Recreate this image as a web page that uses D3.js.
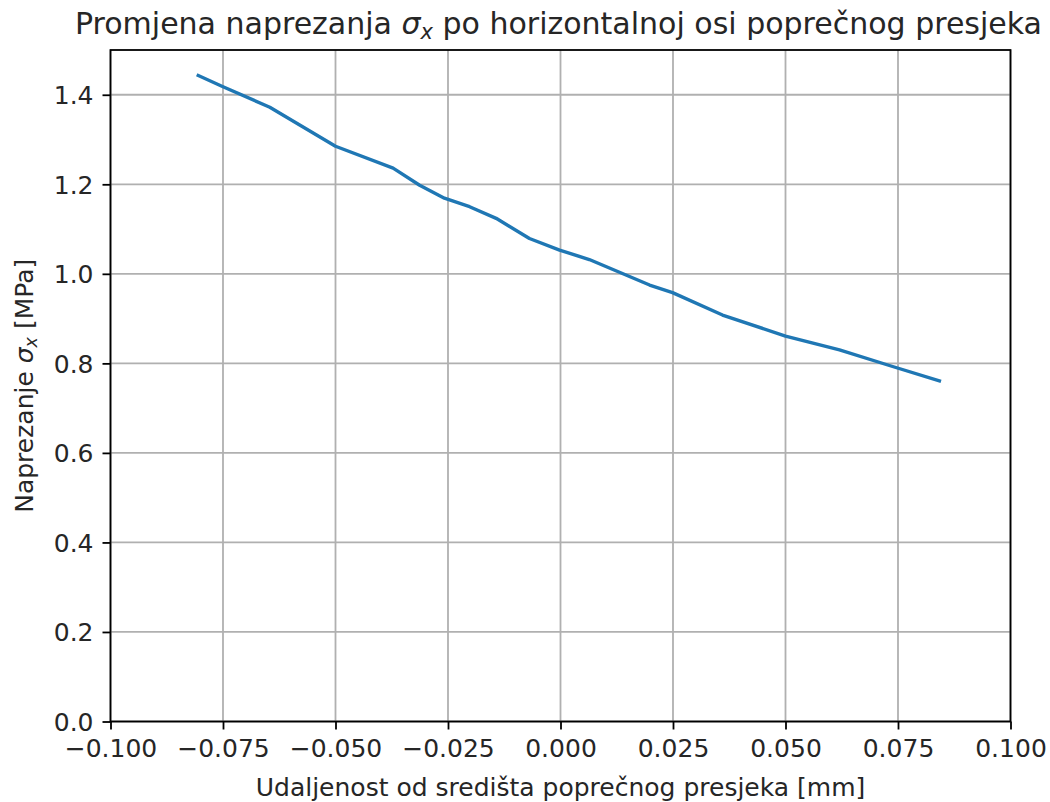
<!DOCTYPE html>
<html>
<head>
<meta charset="utf-8">
<title>Naprezanje</title>
<style>
  body { margin: 0; background: #fff; }
  svg text { font-family: "DejaVu Sans", sans-serif; fill: #262626; }
</style>
</head>
<body>
<div class="chart"></div>
<script src="https://cdn.jsdelivr.net/npm/d3@7"></script>
<script>
// udaljenost [mm] i naprezanje [MPa], ocitano sa slike
var udaljenost = [-0.0805, -0.0750, -0.0646, -0.0500, -0.0372, -0.0313, -0.0258, -0.0202,
                  -0.0143, -0.0069, -0.0002, 0.0064, 0.0198, 0.0249, 0.0360, 0.0500,
                  0.0620, 0.0738, 0.0842];
var naprezanje = [1.443, 1.418, 1.372, 1.285, 1.236, 1.198, 1.169, 1.150,
                  1.124, 1.079, 1.053, 1.032, 0.975, 0.958, 0.908, 0.861,
                  0.830, 0.793, 0.761];
var xTicks = [-0.100, -0.075, -0.050, -0.025, 0.000, 0.025, 0.050, 0.075, 0.100];
var yTicks = [0.0, 0.2, 0.4, 0.6, 0.8, 1.0, 1.2, 1.4];

var width = 1050, height = 802;
var pLeft = 110.5, pRight = 1010.5, pTop = 50, pBottom = 721.5;

var svg = d3.select(".chart").append("svg")
  .attr("width", width).attr("height", height);

var x = d3.scaleLinear().domain([-0.1, 0.1]).range([pLeft, pRight]);
var y = d3.scaleLinear().domain([0, 1.5]).range([pBottom, pTop]);

// mreza
svg.append("g").selectAll("line").data(xTicks).enter().append("line")
  .attr("x1", d => x(d)).attr("x2", d => x(d))
  .attr("y1", pTop).attr("y2", pBottom)
  .attr("stroke", "#b0b0b0").attr("stroke-width", 1.8);
svg.append("g").selectAll("line").data(yTicks).enter().append("line")
  .attr("x1", pLeft).attr("x2", pRight)
  .attr("y1", d => y(d)).attr("y2", d => y(d))
  .attr("stroke", "#b0b0b0").attr("stroke-width", 1.8);

// krivulja
var pts = udaljenost.map((d, i) => [d, naprezanje[i]]);
svg.append("path").datum(pts)
  .attr("fill", "none").attr("stroke", "#1f77b4")
  .attr("stroke-width", 3.4).attr("stroke-linejoin", "round").attr("stroke-linecap", "square")
  .attr("d", d3.line().x(d => x(d[0])).y(d => y(d[1])));

// okvir
svg.append("rect")
  .attr("x", pLeft).attr("y", pTop)
  .attr("width", pRight - pLeft).attr("height", pBottom - pTop)
  .attr("fill", "none").attr("stroke", "#000").attr("stroke-width", 1.8);

// osi
var fmtX = d => d3.format(".3f")(d).replace("-", "\u2212");
var xAxis = d3.axisBottom(x).tickValues(xTicks).tickFormat(fmtX).tickSize(8).tickPadding(10);
var gx = svg.append("g").attr("transform", "translate(0," + pBottom + ")").call(xAxis);
var yAxis = d3.axisLeft(y).tickValues(yTicks).tickFormat(d3.format(".1f")).tickSize(8).tickPadding(9);
var gy = svg.append("g").attr("transform", "translate(" + pLeft + ",0)").call(yAxis);

[gx, gy].forEach(function(g) {
  g.select(".domain").remove();
  g.selectAll(".tick line").attr("stroke", "#000").attr("stroke-width", 1.8);
  g.selectAll(".tick text").style("font-size", "25px").attr("fill", "#262626");
});
gx.selectAll(".tick text").attr("dy", "0.71em");
gy.selectAll(".tick text").attr("dy", "0.36em");

// naslov
var title = svg.append("text")
  .attr("x", (pLeft + pRight) / 2 - 2).attr("y", 34)
  .attr("text-anchor", "middle").style("font-size", "30px");
title.append("tspan").text("Promjena naprezanja ");
title.append("tspan").style("font-style", "italic").text("\u03c3");
title.append("tspan").style("font-style", "italic").style("font-size", "21px").attr("dy", 5).text("x");
title.append("tspan").attr("dy", -5).text(" po horizontalnoj osi poprečnog presjeka");

// oznake osi
svg.append("text")
  .attr("x", (pLeft + pRight) / 2).attr("y", 796)
  .attr("text-anchor", "middle").style("font-size", "25px")
  .text("Udaljenost od središta poprečnog presjeka [mm]");

var ylab = svg.append("text")
  .attr("transform", "translate(33," + (pTop + pBottom) / 2 + ") rotate(-90)")
  .attr("text-anchor", "middle").style("font-size", "25px");
ylab.append("tspan").text("Naprezanje ");
ylab.append("tspan").style("font-style", "italic").text("\u03c3");
ylab.append("tspan").style("font-style", "italic").style("font-size", "17.5px").attr("dy", 4).text("x");
ylab.append("tspan").attr("dy", -4).text(" [MPa]");
</script>
</body>
</html>
